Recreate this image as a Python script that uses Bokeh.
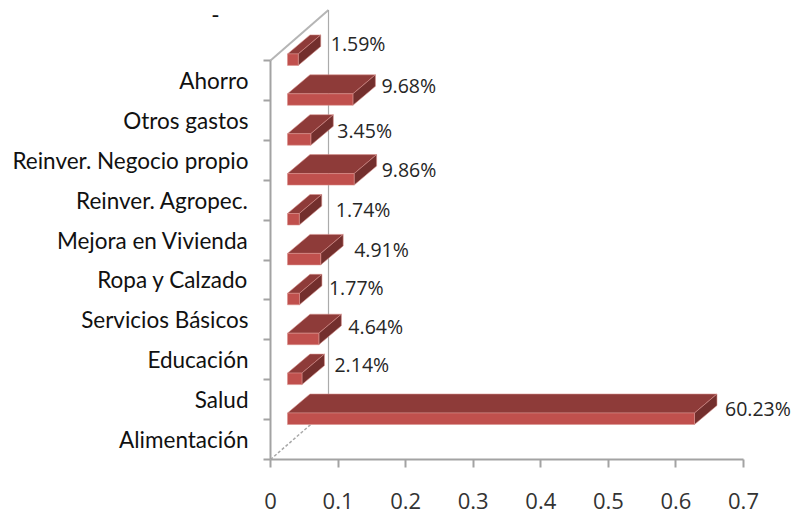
from bokeh.plotting import figure
from bokeh.models import ColumnDataSource, FixedTicker, Range1d
from bokeh.embed import file_html
from bokeh.resources import INLINE
from bokeh.core.properties import value

categories = ["Alimentación", "Salud", "Educación", "Servicios Básicos", "Ropa y Calzado",
              "Mejora en Vivienda", "Reinver. Agropec.", "Reinver. Negocio propio", "Otros gastos", "Ahorro"]
shares = [60.23, 2.14, 4.64, 1.77, 4.91, 1.74, 9.86, 3.45, 9.68, 1.59]
x_ticks = [0, 0.1, 0.2, 0.3, 0.4, 0.5, 0.6, 0.7]
label_nudge_x = [8, 10, 7, 7, 11, 14, 5, 4, 6, 10]
label_nudge_y = [16, 20, 18, 17, 15, 16, 16, 15, 20, 22]
stray_mark = "-" + "\u00a0" * 5

PX_X, PX_Y = 473 / 0.7, 39.9
W, H = 795, 514
FL, FB = 267, 55        # frame margins
XMIN = -3 / PX_X
XMAX = (W - 270) / PX_X
YMAX = (H - FB) / PX_Y

# 3-D projection constants, in axis units
START = 17 / PX_X
BAR_DX, BAR_DY = 22.5 / PX_X, 19 / PX_Y
BAR_BASE, BAR_H = 35 / PX_Y, 11.5 / PX_Y
WALL_DX, WALL_DY = 58 / PX_X, 50.5 / PX_Y
STRAY_Y = YMAX - 5 / PX_Y
N = len(categories)

p = figure(width=W, height=H, output_backend="svg", toolbar_location=None,
           x_range=Range1d(XMIN, XMAX), y_range=Range1d(0, YMAX),
           min_border_left=FL, min_border_right=0, min_border_top=0, min_border_bottom=FB,
           background_fill_color="white", border_fill_color="white", outline_line_color=None)
p.grid.visible = False

AXIS = "#A3A3A3"
# back wall
p.line([0, WALL_DX], [N, N + WALL_DY], line_color="#B5B5B5", line_width=2)
p.line([WALL_DX, WALL_DX], [WALL_DY, N + WALL_DY], line_color="#ABABAB", line_width=1.2)
p.line([0, WALL_DX], [0, WALL_DY], line_color="#A8A8A8", line_width=1.5, line_dash="3 2")
# value-axis spine
p.line([0, 0], [0, N], line_color=AXIS, line_width=2)

# bars
front_x, front_y, top_x, top_y, side_x, side_y = [], [], [], [], [], []
for i, v in enumerate(shares):
    x0, x1 = START, START + v / 100
    y0, y1 = i + BAR_BASE, i + BAR_BASE + BAR_H
    front_x.append([x0, x1, x1, x0]); front_y.append([y0, y0, y1, y1])
    top_x.append([x0, x1, x1 + BAR_DX, x0 + BAR_DX]); top_y.append([y1, y1, y1 + BAR_DY, y1 + BAR_DY])
    side_x.append([x1, x1 + BAR_DX, x1 + BAR_DX, x1]); side_y.append([y0, y0 + BAR_DY, y1 + BAR_DY, y1])
edge = dict(line_color="#D98F8C", line_width=0.8, line_alpha=0.7)
p.patches(top_x, top_y, fill_color="#8E3B39", **edge)
p.patches(side_x, side_y, fill_color="#732F2D", **edge)
p.patches(front_x, front_y, fill_color="#C0504D", **edge)

# data labels
src = ColumnDataSource(dict(
    x=[START + v / 100 + BAR_DX for v in shares],
    y=[i + BAR_BASE for i in range(N)],
    t=[f"{v:.2f}%" for v in shares],
    xo=label_nudge_x,
    yo=[-d for d in label_nudge_y],
))
p.text("x", "y", text="t", source=src, x_offset="xo", y_offset="yo", text_align="left",
       text_baseline="middle", text_font=value("Open Sans"), text_font_size="19.5px", text_color="#262626")

# axes
xa = p.xaxis[0]
xa.ticker = FixedTicker(ticks=x_ticks)
xa.major_label_overrides = {t: ("0" if t == 0 else str(t)) for t in x_ticks}
xa.bounds = (0, 0.7)
xa.axis_line_color = AXIS; xa.axis_line_width = 2
xa.major_tick_line_color = AXIS; xa.major_tick_line_width = 2
xa.major_tick_out = 8; xa.major_tick_in = 0
xa.minor_tick_line_color = None
xa.major_label_standoff = 25
xa.major_label_text_font = "Open Sans"; xa.major_label_text_font_size = "22px"
xa.major_label_text_color = "#333333"

ya = p.yaxis[0]
ya.ticker = FixedTicker(ticks=[i + 0.5 for i in range(N)] + [STRAY_Y], minor_ticks=list(range(N + 1)))
overrides = {i + 0.5: c for i, c in enumerate(categories)}
overrides[STRAY_Y] = stray_mark
ya.major_label_overrides = overrides
ya.axis_line_color = None
ya.major_tick_line_color = None; ya.major_tick_out = 0; ya.major_tick_in = 0
ya.minor_tick_line_color = AXIS; ya.minor_tick_line_width = 2
ya.minor_tick_out = 4; ya.minor_tick_in = 3
ya.major_label_standoff = 15
ya.major_label_text_font = "Lato"; ya.major_label_text_font_size = "22.5px"
ya.major_label_text_color = "#111111"

open("out.html", "w").write(file_html(p, INLINE))
